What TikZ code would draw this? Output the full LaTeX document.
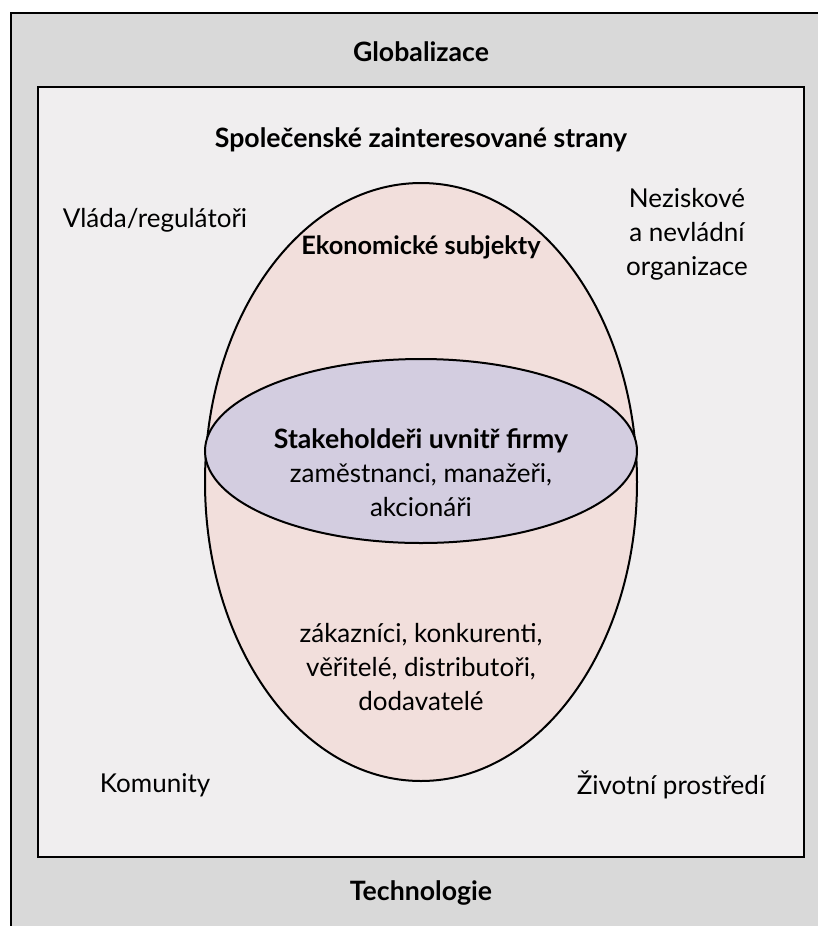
\documentclass[tikz,border=0pt]{standalone}
\usepackage{fontspec}
\setmainfont{Lato}
\usetikzlibrary{positioning}
\definecolor{outergray}{HTML}{D9D9D9}
\definecolor{innergray}{HTML}{F0EEEF}
\definecolor{econpink}{HTML}{F2DFDC}
\definecolor{firmlilac}{HTML}{D3CDE0}

\begin{document}
\begin{tikzpicture}[x=0.75pt, y=-0.75pt,
  framebox/.style={draw=black, line width=1.6pt},
  ringshape/.style={draw=black, line width=1.5pt},
  headtext/.style={font=\fontsize{20}{25.5}\selectfont\bfseries, align=center, inner sep=0pt},
  bodytext/.style={font=\fontsize{19.5}{25.5}\selectfont, align=center, inner sep=0pt}
]
  \useasboundingbox (0,0) rectangle (818,926);
  \clip (0,0) rectangle (818,926);

  % Frames
  \draw[framebox, fill=outergray] (11,13) rectangle (840,950);
  \draw[framebox, fill=innergray] (38,87) rectangle (804,857);

  % Ellipses
  \draw[ringshape, fill=econpink] (421,482) ellipse [x radius=216, y radius=299];
  \draw[ringshape, fill=firmlilac] (421,451) ellipse [x radius=216, y radius=92];

  \node[headtext] (global) at (421,52) {Globalizace};
  \node[headtext] (societal) at (421,140) {Společenské zainteresované strany};
  \node[bodytext] (govt) at (155,220) {Vláda/regulátoři};
  \node[bodytext] (ngo) at (687,234) {Neziskové\\a nevládní\\organizace};
  \node[headtext, font=\fontsize{19}{25.5}\selectfont\bfseries] (econ) at (421,247) {Ekonomické subjekty};
  \node[bodytext] (firm) at (421,473) {\textbf{\fontsize{20}{25.5}\selectfont Stakeholdeři uvnitř firmy}\\zaměstnanci, manažeři,\\akcionáři};
  \node[bodytext] (market) at (421,667) {zákazníci, konkurenti,\\věřitelé, distributoři,\\dodavatelé};
  \node[bodytext] (community) at (155,785) {Komunity};
  \node[bodytext] (nature) at (671,785) {Životní prostředí};
  \node[headtext] (tech) at (421,893) {Technologie};
\end{tikzpicture}
\end{document}
